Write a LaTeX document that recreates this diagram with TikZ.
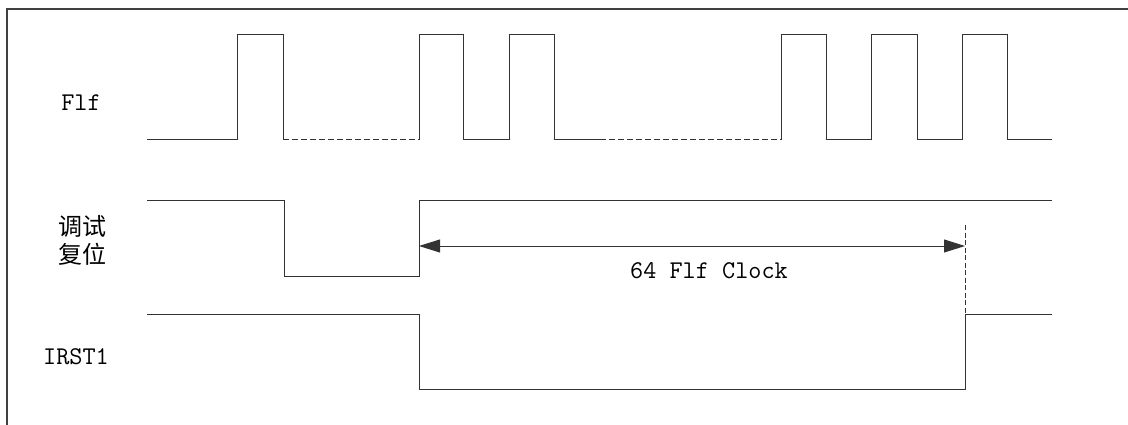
\documentclass[tikz,border=0pt]{standalone}
\usepackage{fontspec}
\newfontfamily\cjk{Noto Sans CJK SC}
\usetikzlibrary{arrows.meta}
\tikzset{
  sig/.style={draw=black!80, line width=1pt},
  sigdash/.style={sig, dash pattern=on 6pt off 3pt},
  frameline/.style={draw=black!75, line width=1.3pt},
  lbl/.style={font=\ttfamily\fontsize{25.5}{26}\selectfont, inner sep=0pt},
  cjklbl/.style={font=\cjk\fontsize{24}{28}\selectfont, inner sep=0pt, align=center},
  dim/.style={sig, {Triangle[length=21pt,width=13pt]}-{Triangle[length=21pt,width=13pt]}},
}
\begin{document}
\begin{tikzpicture}[x=1pt,y=-1pt]
\useasboundingbox (0,0) rectangle (1128,425);
% frame (clipped on the right and bottom)
\coordinate (fbl) at (7,425);
\coordinate (ftl) at (7,9);
\coordinate (ftr) at (1128,9);
\draw[frameline] (fbl) -- (ftl) -- (ftr);

% labels
\node[lbl] (lflf) at (81,103) {Flf};
\node[cjklbl] (lrst) at (82,240) {调试\\复位};
\node[lbl] (lirst) at (76,357) {IRST1};
\node[lbl] (lclk) at (709,271) {64 Flf Clock};

% Flf waveform
\draw[sig] (147,140) -- (237,140) -- (237,35) -- (283,35) -- (283,140);
\draw[sigdash] (283,140) -- (419,140);
\draw[sig] (419,140) -- (419,35) -- (463,35) -- (463,140) -- (509,140) -- (509,35) -- (554,35) -- (554,140) -- (600,140);
\draw[sigdash] (600,140) -- (781,140);
\draw[sig] (781,140) -- (781,35) -- (826,35) -- (826,140) -- (871,140) -- (871,35) -- (917,35) -- (917,140) -- (962,140) -- (962,35) -- (1007,35) -- (1007,140) -- (1052,140);

% debug reset waveform
\draw[sig] (147,201) -- (284,201) -- (284,276) -- (419,276) -- (419,201) -- (1052,201);

% IRST1 waveform
\draw[sig] (147,314) -- (419,314) -- (419,389) -- (965,389) -- (965,314) -- (1052,314);

% 64 clock dimension
\coordinate (dl) at (419,246);
\coordinate (dr) at (965,246);
\coordinate (dtop) at (965,225);
\coordinate (dbot) at (965,314);
\draw[sig, dash pattern=on 5pt off 2.5pt] (dtop) -- (dbot);
\draw[dim] (dl) -- (dr);
\end{tikzpicture}
\end{document}
